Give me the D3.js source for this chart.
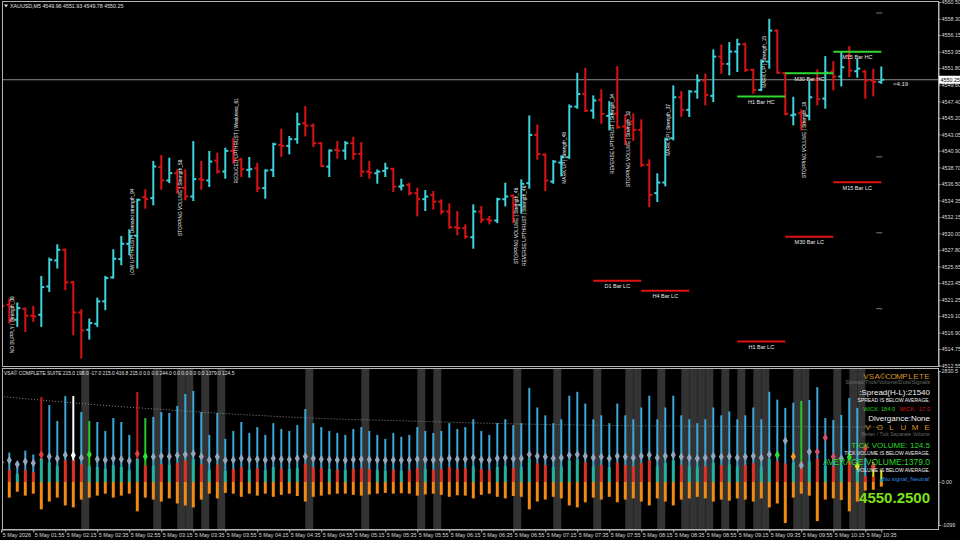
<!DOCTYPE html>
<html><head><meta charset="utf-8">
<script src="https://cdn.jsdelivr.net/npm/d3@7"></script>
<style>html,body{margin:0;background:#000;overflow:hidden}svg{display:block}</style>
</head><body><svg id="c" width="960" height="540"></svg>
<script>
// ---------- DATA ----------
const barOpen = [4520.81,4520.59,4518.61,4520.06,4519.14,4519.27,4523.00,4526.43,4527.83,4523.53,4519.58,4517.29,4518.08,4521.03,4524.19,4526.60,4528.62,4529.68,4534.77,4534.64,4538.72,4536.97,4537.93,4535.96,4534.86,4537.14,4536.97,4539.60,4538.15,4540.87,4539.69,4538.37,4538.59,4535.96,4538.37,4541.66,4541.53,4542.41,4544.51,4544.20,4541.88,4538.80,4541.00,4540.91,4541.88,4540.47,4538.14,4537.92,4538.23,4538.50,4536.17,4536.39,4535.29,4534.50,4535.07,4534.19,4532.88,4530.81,4530.68,4529.49,4532.88,4531.86,4531.69,4534.50,4534.94,4533.75,4536.61,4542.97,4540.38,4536.83,4539.33,4540.03,4546.71,4548.38,4546.19,4547.59,4545.49,4545.75,4544.08,4544.74,4543.64,4539.03,4535.30,4536.70,4542.54,4547.94,4546.28,4548.69,4550.14,4548.12,4553.30,4552.34,4553.96,4554.93,4551.55,4548.91,4552.64,4556.73,4551.11,4545.57,4545.84,4545.49,4550.23,4547.77,4551.33,4550.67,4553.39,4551.37,4551.33,4550.14,4549.96];
const barHigh = [4521.03,4521.33,4520.81,4520.15,4520.37,4524.32,4526.73,4528.49,4527.92,4523.66,4519.93,4518.70,4521.46,4524.32,4527.83,4529.59,4530.47,4534.51,4535.74,4539.47,4540.26,4539.91,4538.37,4538.37,4542.10,4539.47,4540.79,4540.57,4541.23,4542.54,4539.91,4540.00,4539.25,4538.37,4541.88,4543.73,4542.76,4545.84,4546.71,4544.42,4541.96,4541.00,4542.10,4542.10,4542.67,4541.96,4539.46,4538.36,4539.24,4538.58,4537.13,4536.61,4535.95,4535.64,4535.51,4534.41,4533.88,4532.88,4531.12,4533.75,4533.53,4532.22,4534.63,4536.61,4535.07,4537.05,4545.48,4544.29,4540.47,4539.59,4540.21,4546.93,4551.10,4551.76,4548.12,4548.91,4547.37,4551.98,4545.62,4545.75,4544.96,4539.69,4537.84,4542.54,4549.44,4548.69,4548.82,4550.89,4551.02,4554.18,4554.84,4555.15,4555.59,4555.06,4551.63,4552.86,4558.22,4556.82,4551.19,4547.94,4546.28,4550.01,4551.55,4553.30,4552.64,4553.83,4554.62,4552.95,4551.46,4551.63,4551.93];
const barLow = [4520.15,4518.17,4517.73,4517.07,4518.39,4517.73,4522.34,4525.42,4522.56,4516.63,4513.56,4516.06,4517.73,4519.93,4524.10,4525.86,4527.17,4525.42,4533.32,4533.76,4535.82,4536.70,4535.30,4534.42,4534.33,4535.82,4536.18,4537.93,4537.27,4539.25,4537.49,4537.40,4535.52,4534.64,4537.49,4540.13,4540.48,4541.88,4542.84,4541.44,4538.80,4537.49,4539.90,4539.77,4539.77,4537.49,4537.27,4536.61,4537.49,4535.51,4535.73,4535.07,4532.30,4533.01,4533.18,4532.57,4530.68,4529.80,4529.36,4528.04,4531.43,4531.25,4531.43,4533.62,4531.43,4532.66,4535.95,4539.77,4535.64,4536.61,4537.57,4539.90,4546.49,4546.05,4545.18,4544.52,4543.64,4543.86,4541.67,4542.24,4538.81,4533.54,4534.20,4536.26,4542.32,4545.40,4545.40,4547.81,4546.93,4547.37,4551.11,4550.89,4551.33,4551.33,4548.47,4548.82,4551.77,4551.11,4545.62,4544.30,4543.64,4544.96,4546.93,4546.50,4548.91,4549.44,4550.67,4550.58,4547.81,4548.12,4549.78];
const barClose = [4520.45,4518.61,4520.15,4519.14,4519.05,4522.91,4526.51,4527.83,4523.53,4519.58,4517.21,4518.17,4521.03,4524.10,4526.65,4528.62,4529.59,4534.42,4534.51,4538.81,4536.97,4537.93,4535.96,4534.86,4537.14,4537.05,4539.47,4538.15,4540.87,4539.69,4538.46,4538.46,4535.96,4538.28,4541.75,4541.53,4542.41,4544.39,4544.20,4541.88,4538.89,4540.91,4540.91,4541.88,4540.47,4538.14,4538.01,4538.14,4538.58,4536.17,4536.30,4535.29,4534.50,4534.85,4534.19,4532.88,4530.81,4530.68,4529.58,4532.88,4531.78,4531.69,4534.50,4534.85,4533.75,4536.52,4542.97,4540.47,4536.96,4539.46,4540.03,4546.71,4548.38,4546.18,4547.51,4545.75,4545.75,4543.99,4543.86,4543.64,4539.03,4535.08,4536.70,4542.41,4547.94,4546.28,4548.69,4550.14,4548.25,4553.30,4552.34,4553.96,4554.93,4551.55,4548.91,4552.64,4556.73,4551.19,4545.75,4545.66,4544.61,4547.94,4547.68,4551.19,4550.67,4551.90,4551.46,4551.72,4550.14,4549.96,4550.25];

const priceTicks = [4560.50,4558.30,4556.15,4553.95,4551.80,4549.60,4547.40,4545.20,4543.05,4540.90,4538.70,4536.50,4534.35,4532.15,4530.00,4527.80,4525.65,4523.45,4521.25,4519.10,4516.90,4514.75,4512.55];
const timeLabels = ["5 May 2026","5 May 01:55","5 May 02:15","5 May 02:35","5 May 02:55","5 May 03:15","5 May 03:35","5 May 03:55","5 May 04:15","5 May 04:35","5 May 04:55","5 May 05:15","5 May 05:35","5 May 05:55","5 May 06:15","5 May 06:35","5 May 06:55","5 May 07:15","5 May 07:35","5 May 07:55","5 May 08:15","5 May 08:35","5 May 08:55","5 May 09:15","5 May 09:35","5 May 09:55","5 May 10:15","5 May 10:35"];
const lastPrice = 4550.25;

const signalBars = [1,16,22,29,64,65,70,76,78,83,95,100];
const signalPrices = [4517.95,4530.20,4534.68,4542.19,4530.99,4530.99,4539.95,4543.11,4541.13,4543.64,4552.60,4542.32];
const signalTexts = ["NO SUPPLY | Strength_08","LOW UPTHRUST | Demand strength_94","STOPPING VOLUME | Strength_58","REDUCED UPTHRUST | Weakness_61","STOPPING VOLUME | Strength_46","REVERSE UPTHRUST | Strength_46","MARK UP | Strength_48","REVERSE UPTHRUST | Strength_34","STOPPING VOLUME | Strength_32","MARK UP | Strength_37","MARK UP | Strength_15","STOPPING VOLUME | Strength_18"];

const levelNames = ["D1 Bar LC","H4 Bar LC","H1 Bar HC","H1 Bar LC","M30 Bar HC","M30 Bar LC","M15 Bar HC","M15 Bar LC"];
const levelPrices = [4523.75,4522.43,4548.03,4515.75,4551.11,4529.54,4553.95,4536.75];
const levelFrom = [74,80,92,92,98,98,104,104];
const levelTo = [80,86,98,98,104,104,110,110];
const levelKind = ["low","low","high","low","high","low","high","low"];
const stubPrices = [4559.05,4540.08,4530.07,4520.06];

// indicator
const volume = [600,750,500,800,700,2170,1960,1555,2190,2190,1785,1555,1530,1300,1630,1530,1200,2295,1630,1660,1785,1760,1940,2245,2320,1785,1200,1760,1100,1300,1530,1250,1400,1200,1500,1350,1300,1450,1860,1500,1400,1300,1250,1200,1350,1400,1300,1200,1100,1250,1150,1200,1400,1300,1250,1300,1500,1350,1400,1600,1300,1200,1500,1600,1450,1500,2400,1900,1700,1500,1600,2200,2300,2000,1600,1700,1500,2000,1700,1600,1900,2200,1600,1900,2200,1700,1600,1500,1600,1900,1700,1800,1600,1700,1900,1600,2300,2100,1890,2020,2070,2090,2420,1630,1580,1710,2140,1890,610,510,310];
const volumeClass = "bbbbbrbbbwbgbbbbbrgbbbbbbbbbbbbbbbbbbbbbbbbbbbbbbbbbbbbbbbbbbbbbbbbbbbbbbbbbbbbbbbbbbbbbbbbbbbbbbbbbgbbbbbbbbyy".split("");
const wick = [-300,-400,-250,-350,-300,-700,-500,-400,-600,-650,-450,-400,-350,-300,-400,-350,-300,-750,-400,-450,-500,-420,-550,-600,-650,-450,-300,-420,-280,-300,-380,-300,-350,-300,-380,-330,-300,-360,-500,-380,-350,-320,-300,-300,-330,-350,-320,-300,-280,-300,-290,-300,-350,-320,-300,-330,-380,-340,-350,-420,-330,-300,-380,-420,-360,-380,-700,-500,-450,-380,-420,-600,-650,-520,-400,-450,-380,-520,-450,-420,-500,-600,-420,-500,-600,-450,-420,-380,-420,-500,-450,-480,-420,-450,-500,-420,-650,-550,-1050,-400,-300,-350,-1000,-450,-420,-460,-750,-500,-220,-200,-120];
const spreadSeg = [250,300,200,300,250,600,500,400,550,550,450,400,380,330,420,380,300,600,420,420,450,440,480,550,580,450,300,440,280,330,380,310,350,300,380,340,330,360,470,380,350,330,310,300,340,350,330,300,280,310,290,300,350,330,310,330,380,340,350,400,330,300,380,400,360,380,600,480,430,380,400,550,580,500,400,430,380,500,430,400,480,550,400,480,550,430,400,380,400,480,430,450,400,430,480,400,580,530,470,500,520,520,600,410,400,430,540,470,150,130,80];
const dotValue = [500,550,450,520,480,700,650,600,690,680,620,700,580,560,600,580,540,720,650,640,660,650,680,700,720,650,560,640,550,560,600,570,580,560,600,580,570,600,650,600,580,570,560,550,570,580,570,560,550,560,555,560,580,570,560,570,600,580,580,620,570,560,600,620,590,600,700,660,640,600,620,680,700,660,620,640,600,660,640,620,660,690,620,660,690,640,620,600,620,660,640,650,620,640,660,620,700,690,1050,650,420,770,770,1130,640,600,630,400,870,400,400];
const dotClass = "bbbbbrbbbwbgbbbbbrgbbbbbbbbbbbbbbbbbbbbbbbbbbbbbbbbbbbbbbbbbbbbbbbbbbbbbbbbbbbbbbbbbbbbbbbbbbbbbbgbobbpppbgyrr".split("");
const grayBands = [10,19,22,23,25,27,38,45,52,54,64,69,74,78,79,82,85,86,87,88,90,92,94,95,99,100,104,106,107];
const maBars = [0,10,20,30,40,50,60,70,80,90,100,110];
const maValues = [2180,2000,1850,1720,1620,1560,1500,1460,1430,1420,1410,1400];
const indicatorTicks = [2830.5,0,-1099];
const headerValues = ["215.0","198.0","-17.0","215.0","416.8","215.0","0.0","0.0","244.0","0.0","0.0","0.0","0.0","1379.0","124.5"];

// ---------- DRAW ----------
const svg = d3.select("#c");
const FONT = "'Liberation Sans', Arial, sans-serif";
const plotL = 2, plotR = 938, mainT = 1, mainB = 367, indT = 368, indB = 529;
const x = d3.scaleLinear().domain([0,110]).range([1.3,881.3]);
const y = d3.scaleLinear().domain([4512.55,4560.50]).range([365.7,2]);
const yI = d3.scaleLinear().domain([-1099,2830.5]).range([525,371]);
const UP = "#3fd3dc", DOWN = "#d81414";

svg.append("rect").attr("width",960).attr("height",540).attr("fill","#000");
const defs = svg.append("defs");
defs.append("clipPath").attr("id","cm").append("rect").attr("x",plotL).attr("y",mainT).attr("width",plotR-plotL).attr("height",mainB-mainT);
defs.append("clipPath").attr("id","ci").append("rect").attr("x",plotL).attr("y",indT).attr("width",plotR-plotL).attr("height",indB-indT);

// ---- indicator panel ----
const gi = svg.append("g").attr("clip-path","url(#ci)");
gi.selectAll("rect.band").data(grayBands).join("rect")
  .attr("x",d=>x(d)).attr("width",d=>x(d+1)-x(d)).attr("y",indT).attr("height",indB-indT).attr("fill","#333333");
gi.append("path").datum(maBars.map((b,i)=>[b,maValues[i]]))
  .attr("d",d3.line().x(d=>x(d[0])).y(d=>yI(d[1])).curve(d3.curveMonotoneX))
  .attr("fill","none").attr("stroke","#8a8a8a").attr("stroke-width",1).attr("stroke-dasharray","1,2");
const volCol = {b:"#3aa8d8",r:"#d01818",g:"#28c828",w:"#ffffff",y:"#e6e61e"};
const bars = d3.range(barOpen.length);
gi.selectAll("line.wick").data(bars).join("line")
  .attr("x1",i=>x(i)).attr("x2",i=>x(i)).attr("y1",yI(0)).attr("y2",i=>yI(wick[i]))
  .attr("stroke","#f08a10").attr("stroke-width",3);
gi.selectAll("line.vol").data(bars).join("line")
  .attr("x1",i=>x(i)).attr("x2",i=>x(i)).attr("y1",yI(0)).attr("y2",i=>yI(volume[i]))
  .attr("stroke",i=>volCol[volumeClass[i]]).attr("stroke-width",2);
gi.selectAll("line.spr").data(bars).join("line")
  .attr("x1",i=>x(i)).attr("x2",i=>x(i)).attr("y1",yI(0)).attr("y2",i=>yI(spreadSeg[i]))
  .attr("stroke",i=>barClose[i]>=barOpen[i]?"#22b0a0":"#e03020").attr("stroke-width",3);
const dotCol = {b:"#8fa8c0",r:"#e04040",g:"#33dd33",w:"#ffffff",y:"#d8e020",o:"#f0a020",p:"#d05070"};
gi.selectAll("path.dot").data(bars).join("path")
  .attr("d",d3.symbol(d3.symbolDiamond).size(22))
  .attr("transform",i=>`translate(${x(i)},${yI(dotValue[i])})`)
  .attr("fill",i=>dotCol[dotClass[i]]);

// ---- main chart ----
const gm = svg.append("g").attr("clip-path","url(#cm)");
gm.append("line").attr("x1",plotL).attr("x2",plotR).attr("y1",y(lastPrice)).attr("y2",y(lastPrice)).attr("stroke","#8c8c8c").attr("stroke-width",1);
const ohlc = gm.selectAll("g.bar").data(bars).join("g").attr("stroke",i=>barClose[i]>=barOpen[i]?UP:DOWN).attr("stroke-width",2);
ohlc.append("line").attr("x1",i=>x(i)).attr("x2",i=>x(i)).attr("y1",i=>y(barHigh[i])-0.5).attr("y2",i=>y(barLow[i])+0.5);
ohlc.append("line").attr("x1",i=>x(i)-3).attr("x2",i=>x(i)).attr("y1",i=>y(barOpen[i])).attr("y2",i=>y(barOpen[i]));
ohlc.append("line").attr("x1",i=>x(i)).attr("x2",i=>x(i)+3).attr("y1",i=>y(barClose[i])).attr("y2",i=>y(barClose[i]));

// levels
levelNames.forEach((n,k)=>{
  const col = levelKind[k]==="high"?"#2fd82f":"#e01212";
  gm.append("line").attr("x1",x(levelFrom[k])).attr("x2",x(levelTo[k])).attr("y1",y(levelPrices[k])).attr("y2",y(levelPrices[k])).attr("stroke",col).attr("stroke-width",2);
  gm.append("text").attr("x",(x(levelFrom[k])+x(levelTo[k]))/2).attr("y",y(levelPrices[k])+7.5).attr("text-anchor","middle")
    .attr("fill","#e8e8e8").attr("font-family",FONT).attr("font-size",5.5).text(n);
});
gm.selectAll("line.stub").data(stubPrices).join("line")
  .attr("x1",x(110)-5).attr("x2",x(110)+1).attr("y1",d=>y(d)).attr("y2",d=>y(d)).attr("stroke","#8a7a6a").attr("stroke-width",1);
// signal labels
signalTexts.forEach((t,k)=>{
  gm.append("text").attr("transform",`translate(${x(signalBars[k])+3.2},${y(signalPrices[k])}) rotate(-90)`)
    .attr("text-anchor","middle").attr("dy","0.35em").attr("fill","#f0f0f0").attr("font-family",FONT).attr("font-size",4.8).text(t);
});

// header
svg.append("path").attr("d","M4,4.5 L8,4.5 L6,7.5 Z").attr("fill","#e0e0e0");
svg.append("text").attr("x",10).attr("y",7.5).attr("fill","#e0e0e0").attr("font-family",FONT).attr("font-size",5.3)
  .text("XAUUSD,M5  4549.96 4551.93 4549.78 4550.25");
svg.append("text").attr("x",4).attr("y",375).attr("fill","#e0e0e0").attr("font-family",FONT).attr("font-size",4.9)
  .text("VSA© COMPLETE SUITE " + headerValues.join(" "));
svg.append("text").attr("x",893).attr("y",y(lastPrice)+6).attr("fill","#e0e0e0").attr("font-family",FONT).attr("font-size",6).text("<4:19");

// frames
svg.append("rect").attr("x",plotL+0.5).attr("y",mainT+0.5).attr("width",plotR-plotL).attr("height",mainB-mainT-1).attr("fill","none").attr("stroke","#b4b4b4");
svg.append("rect").attr("x",plotL+0.5).attr("y",indT+0.5).attr("width",plotR-plotL).attr("height",indB-indT).attr("fill","none").attr("stroke","#b4b4b4");

// axes
const pa = svg.append("g").attr("transform",`translate(${plotR+0.5},0)`)
  .call(d3.axisRight(y).tickValues(priceTicks).tickFormat(d3.format(".2f")).tickSize(2).tickPadding(1));
const ia = svg.append("g").attr("transform",`translate(${plotR+0.5},0)`)
  .call(d3.axisRight(yI).tickValues(indicatorTicks).tickFormat(d=>d===0?"0.00":(d===2830.5?"2830.5":String(d))).tickSize(2).tickPadding(1));
const ta = svg.append("g").attr("transform",`translate(0,${indB+0.5})`)
  .call(d3.axisBottom(x).tickValues(d3.range(0,109,4)).tickFormat((d,i)=>timeLabels[i]).tickSize(3).tickPadding(1));
[pa,ia,ta].forEach(a=>{
  a.selectAll("path.domain").attr("stroke","#b4b4b4");
  a.selectAll("line").attr("stroke","#b4b4b4");
  a.selectAll("text").attr("fill","#dcdcdc").attr("font-family",FONT).attr("font-size",5.4);
});
ta.selectAll("text").attr("text-anchor","start").attr("dx",1);
// last price tag
const tag = svg.append("g").attr("transform",`translate(${plotR+1},${y(lastPrice)})`);
tag.append("rect").attr("x",0).attr("y",-4).attr("width",21).attr("height",8).attr("fill","#ffffff");
tag.append("text").attr("x",1.5).attr("y",2).attr("fill","#000").attr("font-family",FONT).attr("font-size",5.4).text(d3.format(".2f")(lastPrice));

// indicator text block
const R = 930;
const tb = svg.append("g").attr("font-family",FONT);
const rt = (yy,fill,size,txt)=>tb.append("text").attr("x",R).attr("y",yy).attr("fill",fill).attr("font-size",size).attr("text-anchor","end").text(txt);
const spaced = (txt,x0,x1,yy)=>{
  const chars = txt.split(""); const step = (x1-x0)/(chars.length-1);
  tb.append("g").selectAll("text").data(chars).join("text")
    .attr("x",(c,k)=>x0+k*step).attr("y",yy).attr("text-anchor","middle")
    .attr("fill","#d4952b").attr("font-size",8).text(c=>c);
};
spaced("VSA©COMPLETE",866,927,378.5);
rt(384,"#6a6a6a",5.6,"Spread/Trick/Volume/Dots/Signals");
rt(394.5,"#f0f0f0",8,":Spread(H-L):21540");
rt(401.5,"#f0f0f0",5,"SPREAD IS BELOW AVERAGE.");
rt(410.5,"#d81818",5.6,"WICK: -17.0");
tb.append("text").attr("x",895).attr("y",410.5).attr("fill","#22cc22").attr("font-size",5.6).attr("text-anchor","end").text("WICK: 184.0");
rt(420.5,"#f0f0f0",8,"Divergance:None");
spaced("VOLUME",868,927,430);
rt(436,"#6a6a6a",5.2,"Better / Tick Separate Volume");
rt(447.5,"#2fd82f",8,"TICK VOLUME: 124.5");
rt(454.5,"#f0f0f0",5,"TICK VOLUME IS BELOW AVERAGE.");
rt(465,"#2fd82f",8.5,"AVERAGE VOLUME:1379.0");
rt(472,"#f0f0f0",5,"VOLUME IS BELOW AVERAGE.");
rt(480.5,"#2f8fe0",5.8,"'No signal_Neutral'");
tb.append("text").attr("x",R).attr("y",503).attr("fill","#7ee018").attr("font-size",15).attr("font-weight","bold").attr("text-anchor","end").text(d3.format(".4f")(lastPrice));
</script>
</body></html>
